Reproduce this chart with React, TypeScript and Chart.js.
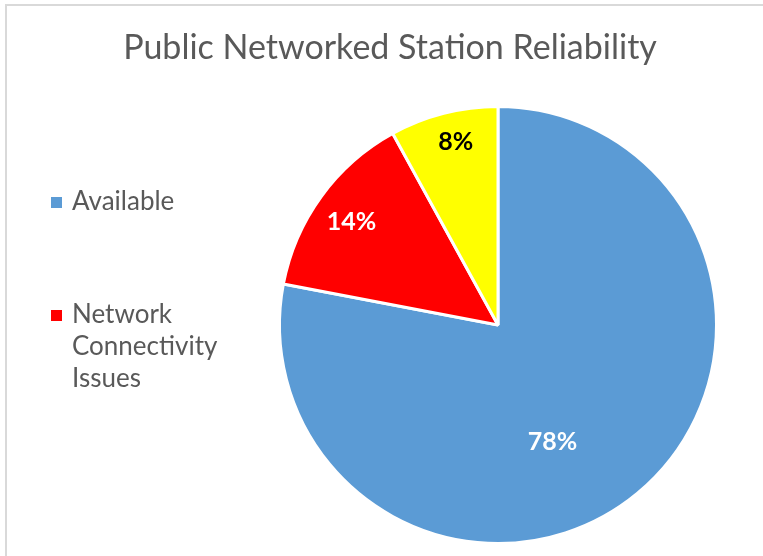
import React, { useEffect, useRef } from "react";
import { Chart, registerables } from "chart.js";

Chart.register(...registerables);

const chartTitle = "Public Networked Station Reliability";
const categories = ["Available", "Network Connectivity Issues", "Other"];
const values = [78, 14, 8];
const sliceColors = ["#5B9BD5", "#FF0000", "#FFFF00"];
const labelColors = ["#FFFFFF", "#FFFFFF", "#000000"];
const legendShown = [true, true, false];

const FONT = "Lato, 'Open Sans', sans-serif";

const overlayPlugin = {
  id: "overlay",
  afterDraw(chart: any) {
    const ctx = chart.ctx as CanvasRenderingContext2D;
    const opts = chart.options.plugins.overlay;
    ctx.save();
    // frame (top and left edges visible)
    ctx.fillStyle = "#D9D9D9";
    ctx.fillRect(5, 4, chart.width - 5, 2);
    ctx.fillRect(5, 4, 2, chart.height - 4);

    // title
    ctx.fillStyle = "#595959";
    ctx.font = `400 ${opts.titleSize}px ${FONT}`;
    ctx.textAlign = "center";
    ctx.textBaseline = "alphabetic";
    ctx.fillText(chartTitle, opts.titleX, opts.titleY);

    // legend
    ctx.textAlign = "left";
    ctx.font = `400 ${opts.legendSize}px ${FONT}`;
    let y = opts.legendTop;
    categories.forEach((cat, i) => {
      if (!legendShown[i]) return;
      const words = cat.split(" ");
      const lines: string[] = [];
      let cur = "";
      words.forEach((w) => {
        const t = cur ? cur + " " + w : w;
        if (ctx.measureText(t).width > opts.legendWrap && cur) {
          lines.push(cur);
          cur = w;
        } else cur = t;
      });
      if (cur) lines.push(cur);
      ctx.fillStyle = sliceColors[i];
      ctx.fillRect(opts.legendX, y - 13, 11, 11);
      ctx.fillStyle = "#595959";
      lines.forEach((ln, k) => {
        ctx.fillText(ln, opts.legendX + 21, y + k * opts.legendLine);
      });
      y += opts.legendGap;
    });

    // data labels
    const meta = chart.getDatasetMeta(0);
    const total = values.reduce((a, b) => a + b, 0);
    ctx.font = `700 ${opts.labelSize}px ${FONT}`;
    ctx.textAlign = "center";
    ctx.textBaseline = "middle";
    meta.data.forEach((arc: any, i: number) => {
      const p = arc.getProps(["x", "y", "startAngle", "endAngle", "outerRadius"], true);
      const a = (p.startAngle + p.endAngle) / 2 + opts.labelAngleShift[i];
      const r = p.outerRadius * opts.labelRadius[i];
      ctx.fillStyle = labelColors[i];
      ctx.fillText(Math.round((values[i] / total) * 100) + "%", p.x + Math.cos(a) * r, p.y + Math.sin(a) * r);
    });
    ctx.restore();
  },
};

export default function App() {
  const ref = useRef<HTMLCanvasElement>(null);
  useEffect(() => {
    document.body.style.margin = "0";
    const chart = new Chart(ref.current!, {
      type: "pie",
      data: {
        labels: categories,
        datasets: [
          {
            data: values,
            backgroundColor: sliceColors,
            borderColor: "#FFFFFF",
            borderWidth: 3,
          },
        ],
      },
      options: {
        responsive: false,
        animation: false,
        layout: { padding: { left: 278, right: 45, top: 104, bottom: 10 } },
        plugins: {
          legend: { display: false },
          tooltip: { enabled: false },
          overlay: {
            titleSize: 34,
            titleX: 390,
            titleY: 59,
            legendSize: 26,
            legendX: 51,
            legendTop: 210,
            legendGap: 113,
            legendLine: 32,
            legendWrap: 175,
            labelSize: 25,
            labelAngleShift: [0.255, -0.014, 0.024],
            labelRadius: [0.59, 0.82, 0.86],
          },
        } as any,
      },
      plugins: [overlayPlugin],
    });
    return () => chart.destroy();
  }, []);
  return (
    <div style={{ width: 763, height: 556 }}>
      <canvas ref={ref} width={763} height={556} />
    </div>
  );
}
